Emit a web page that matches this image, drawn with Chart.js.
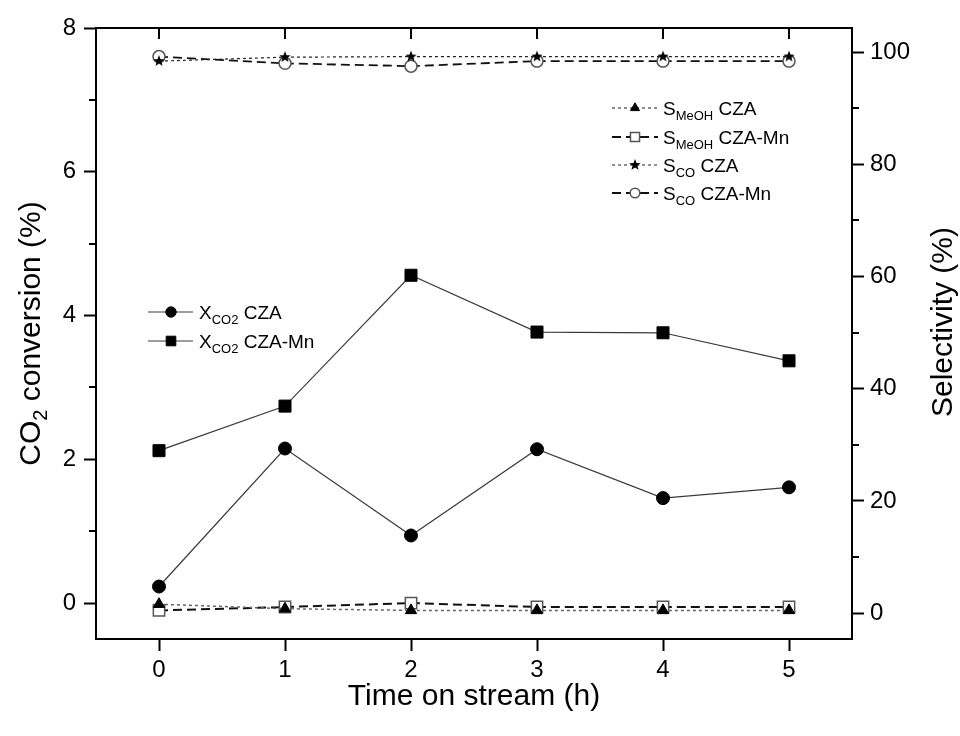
<!DOCTYPE html>
<html>
<head>
<meta charset="utf-8">
<script src="https://cdn.jsdelivr.net/npm/chart.js@4.4.1/dist/chart.umd.min.js"></script>
<style>
  html, body { margin: 0; padding: 0; background: #fff; }
  #wrap { width: 960px; height: 736px; }
</style>
</head>
<body>
<div id="wrap"><canvas id="chart" width="960" height="736"></canvas></div>
<script>
// time on stream (h)
const hours = [0, 1, 2, 3, 4, 5];

// CO2 conversion (%), left axis
const xco2CZA   = [0.23, 2.15, 0.94, 2.14, 1.46, 1.61];
const xco2CZAMn = [2.12, 2.74, 4.56, 3.77, 3.76, 3.37];

// selectivity (%), right axis
const smeohCZA   = [1.6, 0.8, 0.5, 0.5, 0.5, 0.5];
const smeohCZAMn = [0.5, 1.1, 1.8, 1.1, 1.1, 1.1];
const scoCZA     = [98.4, 99.1, 99.2, 99.2, 99.2, 99.2];
const scoCZAMn   = [99.2, 98.0, 97.5, 98.4, 98.4, 98.4];

// tick values
const timeTicks = [0, 1, 2, 3, 4, 5];
const convTicks = [0, 2, 4, 6, 8];
const convMinor = [1, 3, 5, 7];
const selTicks  = [0, 20, 40, 60, 80, 100];
const selMinor  = [10, 30, 50, 70, 90];

const FONT = "'Liberation Sans', Arial, Helvetica, sans-serif";
Chart.defaults.font.family = FONT;
Chart.defaults.color = '#000';

function pts(arr) {
  return hours.map((h, i) => ({ x: h, y: arr[i] }));
}

// filled five point star used as a marker
function makeStar(r) {
  const c = document.createElement('canvas');
  const s = Math.ceil(r * 2 + 2);
  c.width = c.height = s;
  const g = c.getContext('2d');
  g.translate(s / 2, s / 2);
  g.beginPath();
  for (let i = 0; i < 10; i++) {
    const rad = i % 2 ? r * 0.42 : r;
    const a = -Math.PI / 2 + i * Math.PI / 5;
    g.lineTo(rad * Math.cos(a), rad * Math.sin(a));
  }
  g.closePath();
  g.fillStyle = '#000';
  g.fill();
  return c;
}
const star = makeStar(6);

const datasets = [
  { label: 'XCO2 CZA', data: pts(xco2CZA), yAxisID: 'yL',
    borderColor: '#3a3a3a', borderWidth: 1.2,
    pointStyle: 'circle', pointRadius: 6.5, pointBackgroundColor: '#000',
    pointBorderColor: '#000', pointBorderWidth: 1 },
  { label: 'XCO2 CZA-Mn', data: pts(xco2CZAMn), yAxisID: 'yL',
    borderColor: '#3a3a3a', borderWidth: 1.2,
    pointStyle: 'rect', pointRadius: 8.5, pointBackgroundColor: '#000',
    pointBorderColor: '#000', pointBorderWidth: 1 },
  { label: 'SMeOH CZA', data: pts(smeohCZA), yAxisID: 'yR',
    borderColor: '#666', borderWidth: 1.5, borderDash: [3, 3],
    pointStyle: 'triangle', pointRadius: 6.5, pointBackgroundColor: '#000',
    pointBorderColor: '#000', pointBorderWidth: 1 },
  { label: 'SMeOH CZA-Mn', data: pts(smeohCZAMn), yAxisID: 'yR',
    borderColor: '#111', borderWidth: 2, borderDash: [9, 5],
    pointStyle: 'rect', pointRadius: 8, pointBackgroundColor: '#fff',
    pointBorderColor: '#555', pointBorderWidth: 1.5 },
  { label: 'SCO CZA', data: pts(scoCZA), yAxisID: 'yR',
    borderColor: '#222', borderWidth: 1.2, borderDash: [3, 3],
    pointStyle: star, pointRadius: 6, pointBackgroundColor: '#000',
    pointBorderColor: '#000', pointBorderWidth: 0 },
  { label: 'SCO CZA-Mn', data: pts(scoCZAMn), yAxisID: 'yR',
    borderColor: '#111', borderWidth: 1.8, borderDash: [9, 5],
    pointStyle: 'circle', pointRadius: 6, pointBackgroundColor: '#fff',
    pointBorderColor: '#555', pointBorderWidth: 1.5 }
];

// text with subscripts: parts are [text, isSub]
function richWidth(ctx, parts, size, subSize) {
  let w = 0;
  parts.forEach(([t, sub]) => {
    ctx.font = (sub ? subSize : size) + 'px ' + FONT;
    w += ctx.measureText(t).width;
  });
  return w;
}
function drawRich(ctx, parts, x, y, size, subSize, subDy) {
  let cx = x;
  const base = y + size * 0.36;
  ctx.textAlign = 'left';
  ctx.textBaseline = 'alphabetic';
  parts.forEach(([t, sub]) => {
    ctx.font = (sub ? subSize : size) + 'px ' + FONT;
    ctx.fillText(t, cx, sub ? base + subDy : base);
    cx += ctx.measureText(t).width;
  });
}

function legendEntry(ctx, ds, x0, x1, mx, y, tx, parts) {
  ctx.save();
  ctx.strokeStyle = ds.borderColor;
  ctx.lineWidth = ds.borderWidth;
  ctx.setLineDash(ds.borderDash || []);
  ctx.beginPath();
  ctx.moveTo(x0, y);
  ctx.lineTo(x1, y);
  ctx.stroke();
  ctx.setLineDash([]);
  ctx.fillStyle = ds.pointBackgroundColor;
  ctx.strokeStyle = ds.pointBorderColor;
  ctx.lineWidth = ds.pointBorderWidth;
  Chart.helpers.drawPoint(ctx, {
    pointStyle: ds.pointStyle,
    radius: ds.pointRadius * 0.8,
    rotation: 0,
    borderWidth: ds.pointBorderWidth
  }, mx, y);
  ctx.fillStyle = '#000';
  drawRich(ctx, parts, tx, y, 19, 13, 5);
  ctx.restore();
}

const decorations = {
  id: 'decorations',
  afterDraw(chart) {
    const ctx = chart.ctx;
    const a = chart.chartArea;
    const sx = chart.scales.x, sl = chart.scales.yL, sr = chart.scales.yR;
    ctx.save();
    ctx.strokeStyle = '#000';
    ctx.lineWidth = 2;
    // top frame line
    ctx.beginPath();
    ctx.moveTo(a.left - 1, a.top);
    ctx.lineTo(a.right + 1, a.top);
    ctx.stroke();
    // inward ticks on the top frame
    ctx.beginPath();
    timeTicks.forEach(v => {
      const px = Math.round(sx.getPixelForValue(v));
      ctx.moveTo(px, a.top);
      ctx.lineTo(px, a.top + 11);
    });
    // minor ticks, left and right
    convMinor.forEach(v => {
      const py = Math.round(sl.getPixelForValue(v));
      ctx.moveTo(a.left, py);
      ctx.lineTo(a.left - 7, py);
    });
    selMinor.forEach(v => {
      const py = Math.round(sr.getPixelForValue(v));
      ctx.moveTo(a.right, py);
      ctx.lineTo(a.right + 7, py);
    });
    ctx.stroke();

    // axis titles
    ctx.fillStyle = '#000';
    const tSize = 30, tSub = 20;
    const leftTitle = [['CO', 0], ['2', 1], [' conversion (%)', 0]];
    ctx.save();
    ctx.translate(29, (a.top + a.bottom) / 2);
    ctx.rotate(-Math.PI / 2);
    const lw = richWidth(ctx, leftTitle, tSize, tSub);
    drawRich(ctx, leftTitle, -lw / 2, 0, tSize, tSub, 7);
    ctx.restore();

    const rightTitle = [['Selectivity (%)', 0]];
    ctx.save();
    ctx.translate(941, 322);
    ctx.rotate(-Math.PI / 2);
    const rw = richWidth(ctx, rightTitle, tSize, tSub);
    drawRich(ctx, rightTitle, -rw / 2, 0, tSize, tSub, 7);
    ctx.restore();

    const bottomTitle = [['Time on stream (h)', 0]];
    const bw = richWidth(ctx, bottomTitle, tSize, tSub);
    drawRich(ctx, bottomTitle, (a.left + a.right) / 2 - bw / 2, 694, tSize, tSub, 7);

    // legends
    const d = chart.data.datasets;
    legendEntry(ctx, d[0], 148, 193, 171, 312, 199, [['X', 0], ['CO2', 1], [' CZA', 0]]);
    legendEntry(ctx, d[1], 148, 193, 171, 341, 199, [['X', 0], ['CO2', 1], [' CZA-Mn', 0]]);
    legendEntry(ctx, d[2], 612, 658, 635, 108, 663, [['S', 0], ['MeOH', 1], [' CZA', 0]]);
    legendEntry(ctx, d[3], 612, 658, 635, 137, 663, [['S', 0], ['MeOH', 1], [' CZA-Mn', 0]]);
    legendEntry(ctx, d[4], 612, 658, 635, 165, 663, [['S', 0], ['CO', 1], [' CZA', 0]]);
    legendEntry(ctx, d[5], 612, 658, 635, 193, 663, [['S', 0], ['CO', 1], [' CZA-Mn', 0]]);
    ctx.restore();
  }
};

const axisLook = {
  grid: { drawOnChartArea: false, drawTicks: true, tickLength: 12, tickWidth: 2, tickColor: '#000' },
  border: { display: true, color: '#000', width: 2 }
};

new Chart(document.getElementById('chart'), {
  type: 'line',
  data: { datasets },
  options: {
    responsive: false,
    animation: false,
    devicePixelRatio: 1,
    layout: { padding: { top: 28, left: 0, right: 0, bottom: 0 } },
    plugins: { legend: { display: false }, tooltip: { enabled: false } },
    elements: { line: { tension: 0 } },
    scales: {
      x: {
        type: 'linear', min: -0.5, max: 5.5, ...axisLook,
        ticks: { font: { size: 24 }, padding: 5, color: '#000' },
        afterBuildTicks: s => { s.ticks = timeTicks.map(v => ({ value: v })); },
        afterFit: s => { s.height = 97; }
      },
      yL: {
        type: 'linear', position: 'left', min: -0.5, max: 8, ...axisLook,
        ticks: { font: { size: 24 }, padding: 8, color: '#000' },
        afterBuildTicks: s => { s.ticks = convTicks.map(v => ({ value: v })); },
        afterFit: s => { s.width = 96; }
      },
      yR: {
        type: 'linear', position: 'right', min: -4.6, max: 104.3, ...axisLook,
        ticks: { font: { size: 24 }, padding: 6, color: '#000' },
        afterBuildTicks: s => { s.ticks = selTicks.map(v => ({ value: v })); },
        afterFit: s => { s.width = 108; }
      }
    }
  },
  plugins: [decorations]
});
</script>
</body>
</html>
